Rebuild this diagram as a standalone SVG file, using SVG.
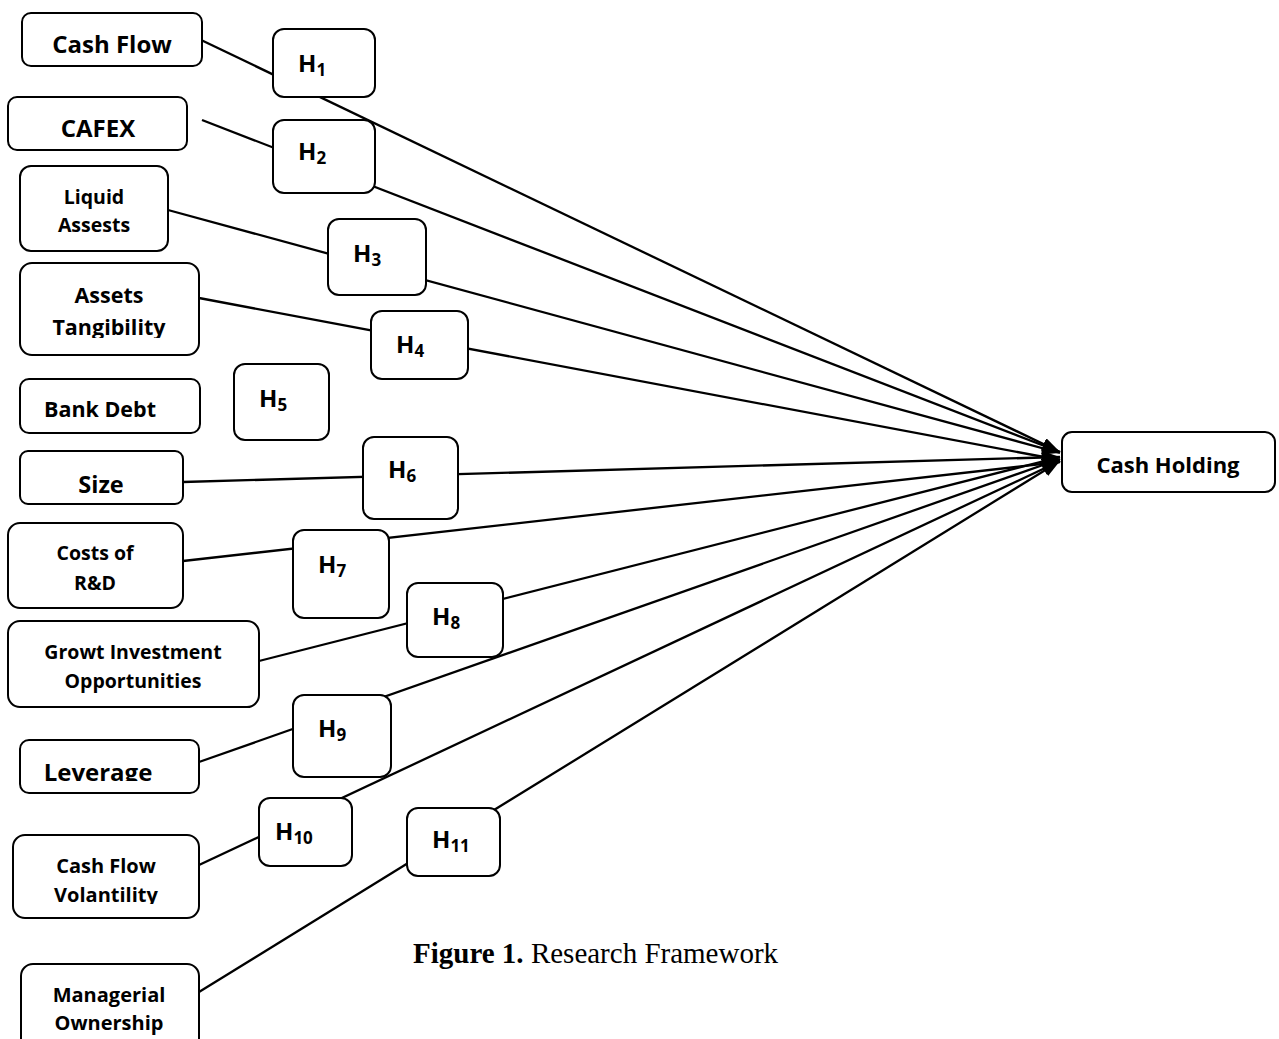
<svg xmlns="http://www.w3.org/2000/svg" width="1279" height="1039" viewBox="0 0 1279 1039">
<style>
.box{fill:#fff;stroke:#000;stroke-width:2}
.lbl{font-family:"Open Sans","Liberation Sans",sans-serif;font-weight:bold;fill:#000;text-anchor:middle}
.h{font-family:"Open Sans","Liberation Sans",sans-serif;font-weight:bold;fill:#000;font-size:24px}
.sub{font-size:17px}
.edge{stroke:#000;stroke-width:2.3;fill:none;marker-end:url(#arr)}
.cap{font-family:"Liberation Serif","Times New Roman",serif;font-size:29px;fill:#000}
</style>
<defs>
<marker id="arr" markerUnits="userSpaceOnUse" markerWidth="19" markerHeight="14" refX="18" refY="6.5" orient="auto">
<path d="M0,0 L18,6.5 L0,13 z" fill="#000"/>
</marker>
<clipPath id="c-tang"><rect x="0" y="0" width="400" height="338"/></clipPath>
<clipPath id="c-size"><rect x="0" y="440" width="400" height="53"/></clipPath>
<clipPath id="c-lev"><rect x="0" y="740" width="400" height="41"/></clipPath>
<clipPath id="c-vol"><rect x="0" y="840" width="400" height="64"/></clipPath>
</defs>
<rect width="1279" height="1039" fill="#fff"/>
<g id="connectors">
<line class="edge" x1="199" y1="39" x2="1060" y2="452"/>
<line class="edge" x1="202" y1="120" x2="1060" y2="452"/>
<line class="edge" x1="168" y1="210" x2="1060" y2="453"/>
<line class="edge" x1="199" y1="298" x2="1060" y2="460"/>
<line class="edge" x1="183" y1="482" x2="1060" y2="457"/>
<line class="edge" x1="183" y1="561" x2="1060" y2="462"/>
<line class="edge" x1="259" y1="661" x2="1060" y2="457"/>
<line class="edge" x1="199" y1="762" x2="1060" y2="459"/>
<line class="edge" x1="199" y1="865" x2="1060" y2="461"/>
<line class="edge" x1="199" y1="992" x2="1060" y2="461"/>
</g>
<g id="n-cashflow"><rect class="box" x="22" y="13" width="180" height="53" rx="9"/><text class="lbl" x="112" y="53" font-size="24">Cash Flow</text></g>
<g id="n-cafex"><rect class="box" x="8" y="97" width="179" height="53" rx="9"/><text class="lbl" x="98" y="137" font-size="24">CAFEX</text></g>
<g id="n-liquid"><rect class="box" x="20" y="166" width="148" height="85" rx="11"/><text class="lbl" x="94" y="204" font-size="19.5">Liquid</text><text class="lbl" x="94" y="232" font-size="19.5">Assests</text></g>
<g id="n-tang"><rect class="box" x="20" y="263" width="179" height="92" rx="12"/><text class="lbl" x="109" y="303" font-size="21.5">Assets</text><text class="lbl" x="109" y="335" font-size="21.5" clip-path="url(#c-tang)">Tangibility</text></g>
<g id="n-bank"><rect class="box" x="20" y="379" width="180" height="54" rx="9"/><text class="lbl" x="100" y="417" font-size="21.5">Bank Debt</text></g>
<g id="n-size"><rect class="box" x="20" y="451" width="163" height="53" rx="8"/><text class="lbl" x="101" y="493" font-size="23.5" clip-path="url(#c-size)">Size</text></g>
<g id="n-rd"><rect class="box" x="8" y="523" width="175" height="85" rx="12"/><text class="lbl" x="95" y="560" font-size="19.5">Costs of</text><text class="lbl" x="95" y="590" font-size="19.5">R&amp;D</text></g>
<g id="n-growth"><rect class="box" x="8" y="621" width="251" height="86" rx="12"/><text class="lbl" x="133" y="659" font-size="19.5">Growt Investment</text><text class="lbl" x="133" y="688" font-size="19.5">Opportunities</text></g>
<g id="n-lev"><rect class="box" x="20" y="740" width="179" height="53" rx="9"/><text class="lbl" x="98" y="781" font-size="24" clip-path="url(#c-lev)">Leverage</text></g>
<g id="n-cfv"><rect class="box" x="13" y="835" width="186" height="83" rx="12"/><text class="lbl" x="106" y="873" font-size="20">Cash Flow</text><text class="lbl" x="106" y="902" font-size="20" clip-path="url(#c-vol)">Volantility</text></g>
<g id="n-mo"><rect class="box" x="21" y="964" width="178" height="90" rx="12"/><text class="lbl" x="109" y="1002" font-size="20">Managerial</text><text class="lbl" x="109" y="1030" font-size="20">Ownership</text></g>
<g id="n-ch"><rect class="box" x="1062" y="432" width="213" height="60" rx="10"/><text class="lbl" x="1168" y="473" font-size="22">Cash Holding</text></g>
<g id="h1"><rect class="box" x="273" y="29" width="102" height="68" rx="11"/><text class="h" x="298" y="72">H<tspan class="sub" dy="4">1</tspan></text></g>
<g id="h2"><rect class="box" x="273" y="120" width="102" height="73" rx="11"/><text class="h" x="298" y="160">H<tspan class="sub" dy="4">2</tspan></text></g>
<g id="h3"><rect class="box" x="328" y="219" width="98" height="76" rx="11"/><text class="h" x="353" y="262">H<tspan class="sub" dy="4">3</tspan></text></g>
<g id="h4"><rect class="box" x="371" y="311" width="97" height="68" rx="11"/><text class="h" x="396" y="353">H<tspan class="sub" dy="4">4</tspan></text></g>
<g id="h5"><rect class="box" x="234" y="364" width="95" height="76" rx="11"/><text class="h" x="259" y="407">H<tspan class="sub" dy="4">5</tspan></text></g>
<g id="h6"><rect class="box" x="363" y="437" width="95" height="82" rx="11"/><text class="h" x="388" y="478">H<tspan class="sub" dy="4">6</tspan></text></g>
<g id="h7"><rect class="box" x="293" y="530" width="96" height="88" rx="11"/><text class="h" x="318" y="573">H<tspan class="sub" dy="4">7</tspan></text></g>
<g id="h8"><rect class="box" x="407" y="583" width="96" height="74" rx="11"/><text class="h" x="432" y="625">H<tspan class="sub" dy="4">8</tspan></text></g>
<g id="h9"><rect class="box" x="293" y="695" width="98" height="82" rx="11"/><text class="h" x="318" y="737">H<tspan class="sub" dy="4">9</tspan></text></g>
<g id="h10"><rect class="box" x="259" y="798" width="93" height="68" rx="11"/><text class="h" x="275" y="840">H<tspan class="sub" dy="4">10</tspan></text></g>
<g id="h11"><rect class="box" x="407" y="808" width="93" height="68" rx="11"/><text class="h" x="432" y="848">H<tspan class="sub" dy="4">11</tspan></text></g>
<text class="cap" x="413" y="963"><tspan font-weight="bold">Figure 1.</tspan> Research Framework</text>
</svg>
